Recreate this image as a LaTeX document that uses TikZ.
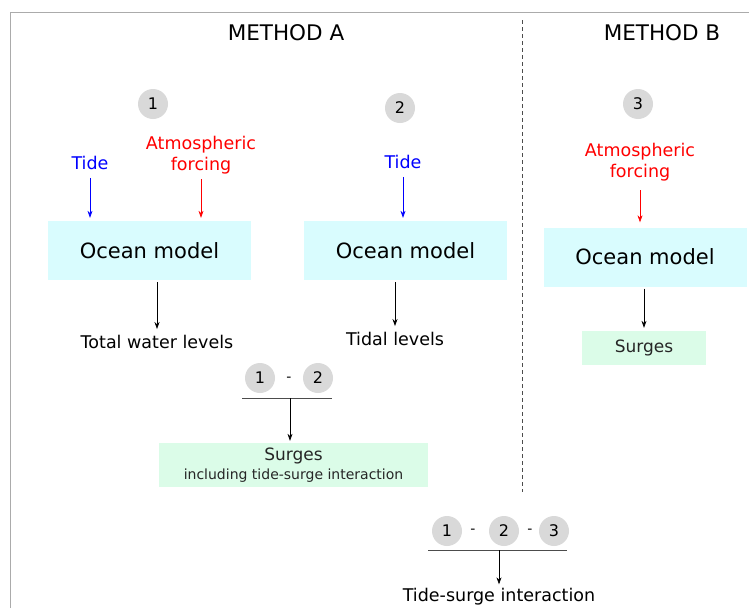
\documentclass[tikz,border=0pt]{standalone}
\usepackage{fontspec}
\setmainfont{DejaVu Sans}
\usetikzlibrary{positioning,arrows.meta,calc}
\definecolor{oceancyan}{HTML}{D9FCFE}
\definecolor{surgegreen}{HTML}{DBFCE8}
\definecolor{numgray}{HTML}{D9D9D9}
\definecolor{framegray}{HTML}{ABABAB}

\begin{document}
\begin{tikzpicture}[x=1pt, y=-1pt,
    model/.style={fill=oceancyan, minimum width=203pt, minimum height=59pt, inner sep=0pt, font=\fontsize{21}{25}\selectfont},
    surge/.style={fill=surgegreen, align=center, inner sep=0pt, text=black!85, font=\fontsize{17}{20}\selectfont},
    num/.style={circle, fill=numgray, minimum size=30pt, inner sep=0pt, font=\fontsize{16}{19}\selectfont},
    title/.style={font=\fontsize{21.5}{25}\selectfont},
    txt/.style={font=\fontsize{17.5}{21}\selectfont, align=center, inner sep=4pt},
    minus/.style={font=\fontsize{14}{16}\selectfont, inner sep=0pt},
    arrow/.style={-{Stealth[length=7pt, width=5pt]}, line width=0.7pt},
    bar/.style={line width=0.8pt, draw=black!70}
]
\useasboundingbox (0,0) rectangle (749,608);

% Frame and separator
\draw[framegray, line width=1pt] (10,608) -- (10,12) -- (749,12);
\draw[black!70, dash pattern=on 4pt off 3pt] (522,20) -- (522,492);

\node[title] (methA) at (286,33) {METHOD A};
\node[title] (methB) at (662,33) {METHOD B};

% Run 1
\node[num] (n1) at (153,104) {1};
\node[txt, blue] (tide1) at (90,163) {Tide};
\node[txt, red] (atm1) at (201,155) {Atmospheric\\forcing};
\node[model] (ocean1) at (149.5,250.5) {Ocean model};
\node[txt] (total) at (157,342) {Total water levels};

\draw[arrow, blue, shorten <=4pt, shorten >=3pt] (tide1.south) -- (tide1.south |- ocean1.north);
\draw[arrow, red, shorten <=1pt, shorten >=3pt] (atm1.south) -- (atm1.south |- ocean1.north);
\draw[arrow, shorten <=2pt, shorten >=2pt] (total.north |- ocean1.south) -- (total.north);

% Run 2
\node[num] (n2) at (400,108) {2};
\node[txt, blue] (tide2) at (403,162) {Tide};
\node[model] (ocean2) at (405.5,250.5) {Ocean model};
\node[txt] (tidal) at (395,339) {Tidal levels};

\draw[arrow, blue, shorten <=4pt, shorten >=3pt] (tide2.south) -- (tide2.south |- ocean2.north);
\draw[arrow, shorten <=2pt, shorten >=2pt] (tidal.north |- ocean2.south) -- (tidal.north);

% Run 1 - Run 2
\node[num] (d1) at (260,378) {1};
\node[minus] (m1) at (289,379) {-};
\node[num] (d2) at (318,378) {2};
\coordinate (barA) at (290,398);
\draw[bar] ($(barA)+(-48,0)$) -- ($(barA)+(42,0)$);
\node[surge, minimum width=269pt, minimum height=44pt] (surgesA) at (293.5,465)
    {Surges\\[-1pt]{\fontsize{14}{16}\selectfont including tide-surge interaction}};
\draw[arrow, shorten >=2pt] (barA) -- (barA |- surgesA.north);

% Method B
\node[num] (n3) at (638,104) {3};
\node[txt, red] (atm3) at (640,162) {Atmospheric\\forcing};
\node[model] (ocean3) at (645,257) {Ocean model};
\node[surge, minimum width=124pt, minimum height=34pt] (surgesB) at (644,348) {Surges};

\draw[arrow, red, shorten <=5pt, shorten >=5pt] (atm3.south) -- (atm3.south |- ocean3.north);
\draw[arrow, shorten <=2pt, shorten >=3pt] (surgesB.north |- ocean3.south) -- (surgesB.north);

% (1 - 2) - 3
\node[num] (e1) at (447,531) {1};
\node[minus] (m2) at (473,531) {-};
\node[num] (e2) at (504,531) {2};
\node[minus] (m3) at (530,531) {-};
\node[num] (e3) at (554,531) {3};
\coordinate (barB) at (499,550);
\node[txt] (tsi) at (499,597) {Tide-surge interaction};
\draw[bar] ($(barB)+(-71,0)$) -- ($(barB)+(68,0)$);
\draw[arrow] (barB) -- (barB |- tsi.north);
\end{tikzpicture}
\end{document}
